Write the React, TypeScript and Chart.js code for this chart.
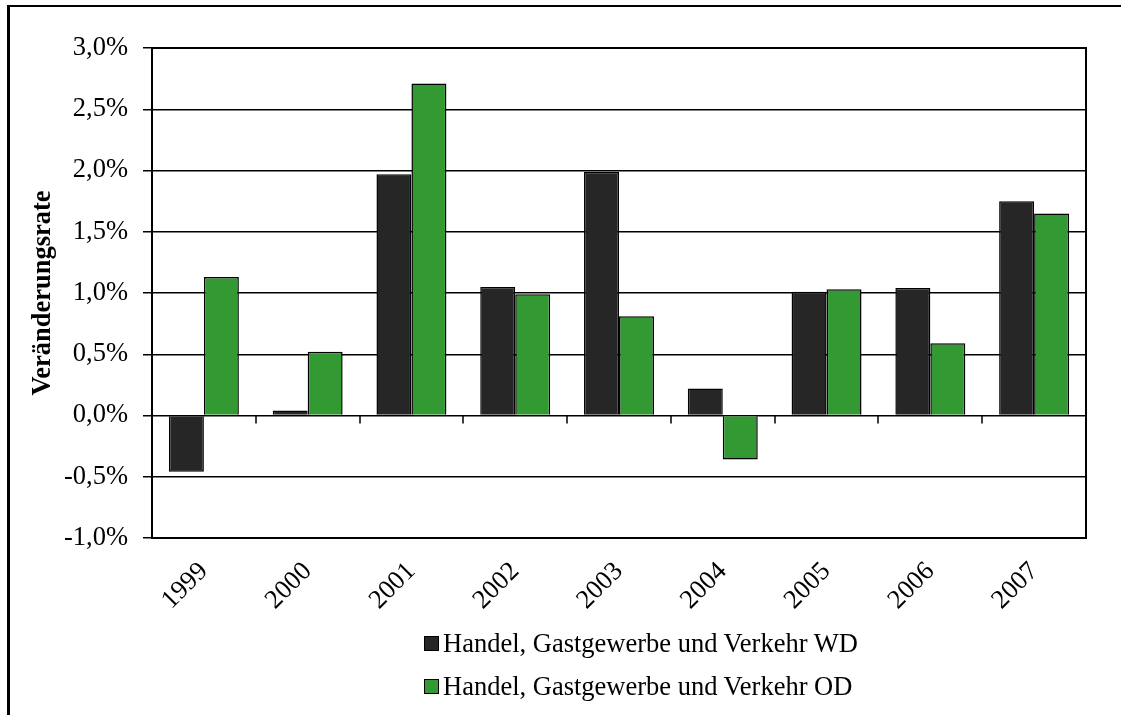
import React, { useEffect, useRef } from "react";
import { Chart, registerables } from "chart.js";

Chart.register(...registerables);

const years = ["1999", "2000", "2001", "2002", "2003", "2004", "2005", "2006", "2007"];
const seriesWD = [-0.46, 0.04, 1.97, 1.05, 1.99, 0.22, 1.01, 1.04, 1.75];
const seriesOD = [1.13, 0.52, 2.71, 0.99, 0.81, -0.36, 1.03, 0.59, 1.65];
const seriesLabels = ["Handel, Gastgewerbe und Verkehr WD", "Handel, Gastgewerbe und Verkehr OD"];
const seriesColors = ["#262626", "#339933"];
const yMin = -1;
const yMax = 3;
const yStep = 0.5;
const yTitle = "Veränderungsrate";

const FONT = "'Liberation Serif', 'Times New Roman', serif";
const FS = 26.5;

const framePlugin = {
  id: "frame",
  afterDatasetsDraw(chart: any) {
    const { ctx, chartArea: a, scales } = chart;
    const xs = scales.x;
    const ys = scales.y;
    ctx.save();
    ctx.strokeStyle = "#000";
    ctx.lineWidth = 2;
    ctx.strokeRect(a.left, a.top, a.right - a.left, a.bottom - a.top);
    const y0 = ys.getPixelForValue(0);
    const half = (xs.getPixelForValue(1) - xs.getPixelForValue(0)) / 2;
    ctx.lineWidth = 1.5;
    ctx.beginPath();
    for (let i = 0; i < years.length; i++) {
      const px = Math.round(xs.getPixelForValue(i) + half);
      ctx.moveTo(px, y0);
      ctx.lineTo(px, y0 + 8);
    }
    ctx.stroke();
    ctx.restore();
  },
};

export default function App() {
  const ref = useRef<HTMLCanvasElement>(null);
  useEffect(() => {
    if (!ref.current) return;
    Chart.defaults.font.family = FONT;
    const chart = new Chart(ref.current, {
      type: "bar",
      data: {
        labels: years,
        datasets: [
          {
            label: seriesLabels[0],
            data: seriesWD,
            backgroundColor: seriesColors[0],
            borderColor: "#000",
            borderWidth: 1.5,
            categoryPercentage: 0.674,
            barPercentage: 1,
          },
          {
            label: seriesLabels[1],
            data: seriesOD,
            backgroundColor: seriesColors[1],
            borderColor: "#000",
            borderWidth: 1.5,
            categoryPercentage: 0.674,
            barPercentage: 1,
          },
        ],
      },
      options: {
        animation: false,
        responsive: true,
        maintainAspectRatio: false,
        layout: { padding: { left: 0, right: 44, top: 48, bottom: 0 } },
        plugins: {
          legend: { display: false },
          tooltip: { enabled: false },
        },
        scales: {
          x: {
            grid: { display: false, drawTicks: false, tickLength: 0 },
            border: { display: false },
            ticks: {
              minRotation: 45,
              maxRotation: 45,
              padding: 18,
              color: "#000",
              font: { family: FONT, size: FS },
            },
            afterFit: (s: any) => {
              s.height = 715 - 538;
            },
          },
          y: {
            min: yMin,
            max: yMax,
            grid: { color: "#000", lineWidth: 1.5, tickLength: 9, drawTicks: true },
            border: { display: true, color: "#000", width: 2 },
            ticks: {
              stepSize: yStep,
              padding: 15,
              color: "#000",
              font: { family: FONT, size: FS },
              callback: (v: any) => Number(v).toFixed(1).replace(".", ",") + "%",
            },
            title: {
              display: true,
              text: yTitle,
              color: "#000",
              font: { family: FONT, size: FS, weight: "bold" },
              padding: { top: 27, bottom: 0 },
            },
            afterFit: (s: any) => {
              s.width = 152;
            },
          },
        },
      },
      plugins: [framePlugin],
    });
    return () => chart.destroy();
  }, []);

  return (
    <div style={{ position: "absolute", left: 0, top: 0, width: 1130, height: 715, overflow: "hidden", background: "#fff" }}>
      <div
        style={{
          position: "absolute",
          left: 7,
          top: 5,
          width: 1114,
          height: 720,
          borderLeft: "3px solid #000",
          borderTop: "2px solid #000",
          boxSizing: "border-box",
        }}
      />
      <div style={{ position: "absolute", left: 0, top: 0, width: 1130, height: 715 }}>
        <canvas ref={ref} />
      </div>
      <div style={{ position: "absolute", left: 424, top: 622, fontFamily: FONT, fontSize: FS, color: "#000" }}>
        {seriesLabels.map((lab, i) => (
          <div key={lab} style={{ display: "flex", alignItems: "center", height: 43, lineHeight: "43px", whiteSpace: "nowrap" }}>
            <span
              style={{
                display: "inline-block",
                width: 13,
                height: 13,
                background: seriesColors[i],
                border: "1px solid #000",
                marginRight: 4,
              }}
            />
            <span>{lab}</span>
          </div>
        ))}
      </div>
    </div>
  );
}
